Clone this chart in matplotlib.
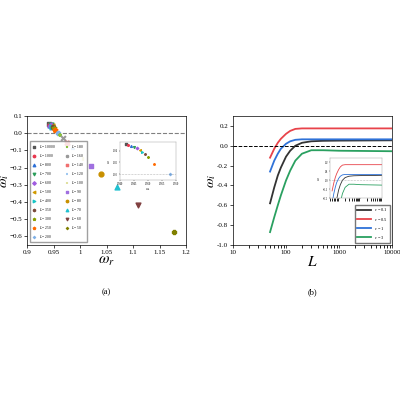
import matplotlib
matplotlib.use('Agg')
import matplotlib.pyplot as plt
import numpy as np

plt.rcParams['font.family'] = 'Liberation Serif'
plt.rcParams['mathtext.fontset'] = 'stix'

# panel (a): eigenvalues for various L
L_vals = [10000, 1000, 800, 700, 600, 500, 400, 350, 300, 250, 200,
          180, 160, 140, 120, 100, 90, 80, 70, 60, 50]
wr = [0.942, 0.943, 0.944, 0.945, 0.946, 0.947, 0.948, 0.949, 0.950, 0.952, 0.958,
      0.962, 0.968, 0.975, 0.987, 1.005, 1.020, 1.040, 1.070, 1.110, 1.178]
wi = [0.052, 0.050, 0.048, 0.046, 0.044, 0.042, 0.038, 0.034, 0.030, 0.018, 0.0,
      -0.01, -0.03, -0.055, -0.09, -0.15, -0.19, -0.24, -0.31, -0.42, -0.575]
colors_a = ['#555555', '#e8384f', '#2c6fd6', '#2a9d5a', '#a05ce0', '#d09a00', '#17c4c4',
            '#7a4a3a', '#8aa000', '#ff6a00', '#7fb0e6', '#8ac040', '#999999', '#f07070',
            '#a0c8f0', '#e0e0a0', '#a070e0', '#c89000', '#20c0d0', '#804040', '#808000']
markers_a = ['s', 'o', '^', 'v', 'D', '<', '>', 'h', '*', 'p', 'P',
             '+', 'x', 'X', '_', '|', 's', 'o', '^', 'v', 'P']

# panel (b): omega_i vs L
L_b = [50, 60, 70, 80, 100, 120, 150, 200, 300, 500, 1000, 10000]
eps_labels = ['0.1', '0.5', '1', '3']
wi_01 = [-0.58, -0.42, -0.30, -0.22, -0.11, -0.05, 0.0, 0.03, 0.045, 0.05, 0.052, 0.055]
wi_05 = [-0.12, -0.03, 0.03, 0.07, 0.12, 0.15, 0.17, 0.175, 0.175, 0.175, 0.175, 0.175]
wi_1 = [-0.26, -0.15, -0.08, -0.03, 0.02, 0.045, 0.06, 0.065, 0.065, 0.065, 0.065, 0.065]
wi_3 = [-0.87, -0.72, -0.60, -0.50, -0.35, -0.25, -0.15, -0.08, -0.045, -0.045, -0.05, -0.055]
colors_b = ['#333333', '#e8434a', '#2f72d8', '#2aa060']

fig = plt.figure(figsize=(4, 4), dpi=100)

ax1 = fig.add_axes([0.0675, 0.3875, 0.3975, 0.3225])
for i in range(len(L_vals)):
    ax1.scatter(wr[i], wi[i], color=colors_a[i], marker=markers_a[i], s=12,
                label='$L$ = %d' % L_vals[i], zorder=3)
ax1.axhline(0, color='gray', ls='--', lw=0.8)
ax1.set_xlim(0.9, 1.2)
ax1.set_ylim(-0.65, 0.1)
ax1.set_xticks([0.9, 0.95, 1, 1.05, 1.1, 1.15, 1.2])
ax1.set_xticklabels(['0.9', '0.95', '1', '1.05', '1.1', '1.15', '1.2'])
ax1.set_yticks(np.arange(-0.6, 0.11, 0.1))
ax1.tick_params(labelsize=5, length=2, width=0.5, pad=1.5)
ax1.set_xlabel(r'$\omega_r$', fontsize=11, labelpad=0)
ax1.set_ylabel(r'$\omega_i$', fontsize=10, labelpad=-1)
ax1.legend(ncol=2, fontsize=2.6, loc='lower left', bbox_to_anchor=(0.01, 0.01),
           handlelength=1, markerscale=0.5, labelspacing=0.55, columnspacing=2.5,
           borderpad=0.6, frameon=True, fancybox=False, edgecolor='#888888')
ax1.text(0.5, -0.38, '(a)', transform=ax1.transAxes, ha='center', fontsize=6)
for s in ax1.spines.values():
    s.set_linewidth(0.5)

ins1 = fig.add_axes([0.30, 0.55, 0.14, 0.095])
for i in range(len(L_vals)):
    ins1.scatter(wr[i], wi[i], color=colors_a[i], marker=markers_a[i], s=1.5)
ins1.axhline(0, color='gray', ls=':', lw=0.4)
ins1.set_xlim(0.94, 0.96)
ins1.set_ylim(-0.01, 0.055)
ins1.tick_params(labelsize=2, length=1, width=0.3, pad=0.5)
ins1.set_xlabel(r'$\omega_r$', fontsize=3, labelpad=0)
ins1.set_ylabel(r'$\omega_i$', fontsize=3, labelpad=0)
for s in ins1.spines.values():
    s.set_linewidth(0.3)
    s.set_edgecolor('#999999')

ax2 = fig.add_axes([0.5825, 0.3875, 0.3975, 0.3225])
series = [wi_01, wi_05, wi_1, wi_3]
for ys, c, e in zip(series, colors_b, eps_labels):
    ax2.plot(L_b, ys, color=c, lw=1.3, label=r'$\epsilon$ = ' + e)
ax2.axhline(0, color='k', ls='--', lw=0.7)
ax2.set_xscale('log')
ax2.set_xlim(10, 10000)
ax2.set_ylim(-1.0, 0.3)
ax2.set_xticks([10, 100, 1000, 10000])
ax2.set_xticklabels(['10', '100', '1000', '10000'])
ax2.set_yticks([-1.0, -0.8, -0.6, -0.4, -0.2, 0.0, 0.2])
ax2.set_yticklabels(['-1.0', '-0.8', '-0.6', '-0.4', '-0.2', '0.0', '0.2'])
ax2.tick_params(labelsize=5, length=2, width=0.5, pad=1.5)
ax2.set_xlabel(r'$L$', fontsize=11, labelpad=0)
ax2.set_ylabel(r'$\omega_i$', fontsize=10, labelpad=-1)
ax2.legend(fontsize=3.2, loc='lower right', bbox_to_anchor=(1.0, 0.0), handlelength=3,
           frameon=True, fancybox=False, edgecolor='#555555', labelspacing=0.5,
           borderpad=0.4)
ax2.text(0.5, -0.38, '(b)', transform=ax2.transAxes, ha='center', fontsize=6)
for s in ax2.spines.values():
    s.set_linewidth(0.5)

ins2 = fig.add_axes([0.825, 0.505, 0.13, 0.10])
for ys, c in zip(series, colors_b):
    ins2.plot(L_b, ys, color=c, lw=0.6)
ins2.axhline(0, color='gray', ls=':', lw=0.4)
ins2.set_xscale('log')
ins2.set_xlim(40, 10000)
ins2.set_ylim(-0.2, 0.25)
ins2.set_xticks([100, 1000])
ins2.set_xticklabels(['', ''])
ins2.tick_params(labelsize=2, length=1, width=0.3, pad=0.5)
ins2.set_ylabel(r'$\omega_i$', fontsize=3, labelpad=0)
for s in ins2.spines.values():
    s.set_linewidth(0.3)
    s.set_edgecolor('#999999')

fig.savefig('out.png', dpi=100)
